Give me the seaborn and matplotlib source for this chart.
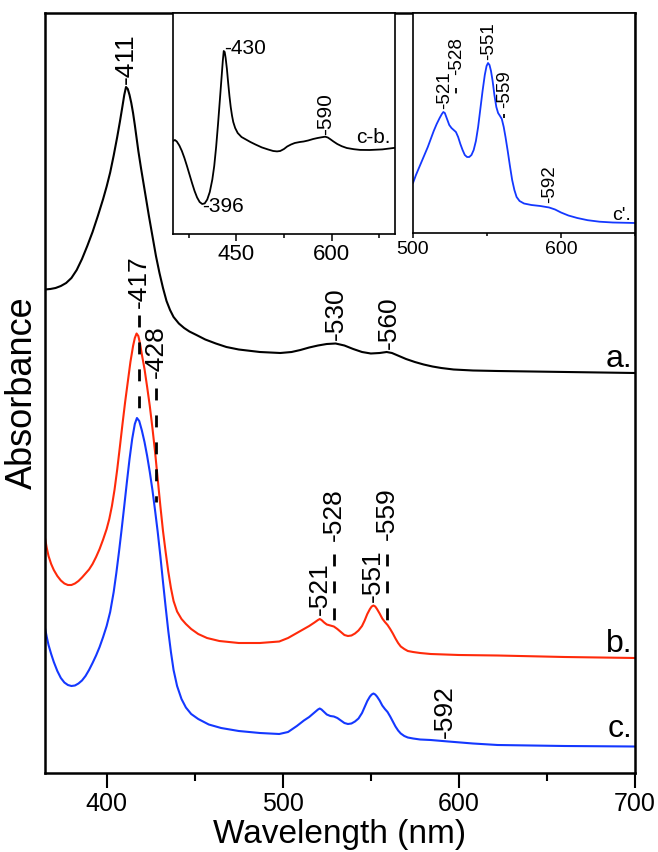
import matplotlib
matplotlib.use("Agg")
import matplotlib.pyplot as plt
import matplotlib.transforms as mtransforms
from matplotlib.ticker import MultipleLocator, AutoMinorLocator
import seaborn as sns

# ---------------- spectra (offset, arbitrary absorbance units) ----------------
# a. (black)
wl_a = [365, 368, 371, 374, 377, 380, 383, 386, 389, 392,
        395, 398, 400, 402, 404, 406, 407.5, 409, 410, 411,
        412, 413, 414, 415, 416, 417, 418, 419.5, 421, 422.5,
        424, 426, 428, 430, 432, 434, 436, 438, 441, 444,
        447, 451, 456, 462, 468, 475, 487, 498.6, 505, 510,
        515, 520, 525, 530, 535, 540, 545, 550, 555, 559,
        562, 566, 570, 575, 580, 585, 590, 597, 608, 622,
        661, 700]
abs_a = [0.985, 0.986, 0.988, 0.992, 0.998, 1.008, 1.024, 1.046, 1.072, 1.100,
         1.132, 1.166, 1.191, 1.219, 1.253, 1.290, 1.320, 1.352, 1.374, 1.390,
         1.386, 1.374, 1.358, 1.338, 1.314, 1.288, 1.262, 1.228, 1.196, 1.164,
         1.132, 1.092, 1.052, 1.018, 0.988, 0.962, 0.944, 0.930, 0.917, 0.908,
         0.901, 0.894, 0.885, 0.877, 0.870, 0.865, 0.860, 0.858, 0.860, 0.864,
         0.869, 0.873, 0.876, 0.877, 0.873, 0.866, 0.860, 0.857, 0.858, 0.860,
         0.858, 0.852, 0.846, 0.840, 0.835, 0.831, 0.828, 0.825, 0.823, 0.822,
         0.820, 0.818]

# b. (red)
wl_b = [365, 366, 367, 368.5, 370, 372, 374, 376, 378, 380,
        382, 384, 386, 388, 390, 392, 394, 396, 398, 400,
        401.5, 403, 404.5, 406, 407.5, 409, 410.5, 412, 413.5, 415,
        416, 417, 418, 419, 420, 421.5, 423, 424.5, 426, 427.5,
        429, 430.5, 432, 433.5, 435, 436.5, 438, 440, 442.5, 445,
        448, 452, 457, 464, 475, 487, 498, 503, 508, 512,
        515, 518, 520, 521, 522, 523.5, 525, 527, 529, 531,
        533, 535, 537, 539, 541, 543, 545, 546.5, 548, 549.5,
        550.5, 551.5, 552.5, 553.5, 555, 556.5, 558, 559.5, 561, 562.5,
        564, 565.5, 567, 569, 571, 574, 578, 584, 600, 622,
        660, 700]
abs_b = [0.488, 0.468, 0.452, 0.436, 0.424, 0.412, 0.403, 0.397, 0.394, 0.394,
         0.397, 0.402, 0.409, 0.417, 0.425, 0.436, 0.450, 0.466, 0.485, 0.506,
         0.526, 0.552, 0.585, 0.625, 0.670, 0.716, 0.760, 0.800, 0.840, 0.872,
         0.888, 0.897, 0.892, 0.876, 0.855, 0.826, 0.790, 0.752, 0.708, 0.660,
         0.606, 0.552, 0.502, 0.460, 0.421, 0.388, 0.362, 0.341, 0.326, 0.316,
         0.306, 0.296, 0.288, 0.282, 0.278, 0.278, 0.281, 0.288, 0.298, 0.306,
         0.312, 0.319, 0.324, 0.326, 0.324, 0.319, 0.315, 0.313, 0.311, 0.306,
         0.300, 0.294, 0.292, 0.293, 0.297, 0.303, 0.312, 0.323, 0.336, 0.346,
         0.351, 0.353, 0.351, 0.346, 0.337, 0.327, 0.320, 0.314, 0.306, 0.297,
         0.287, 0.278, 0.271, 0.266, 0.262, 0.260, 0.258, 0.256, 0.254, 0.253,
         0.250, 0.248]

# c. (blue)
wl_c = [365, 366, 367, 368.5, 370, 372, 374, 376, 378, 380,
        382, 384, 386, 388, 390, 392, 394, 396, 398, 400,
        402, 404, 405.5, 407, 408.5, 410, 411.5, 413, 414.5, 416,
        417.2, 418.5, 420, 421.5, 423, 424.5, 426, 427.5, 429, 430.5,
        432, 433.5, 435, 436.5, 438, 440, 442.5, 445, 448, 452,
        458, 465, 475, 487, 498, 503, 508, 512, 515, 518,
        520, 521, 522, 523.5, 525, 527, 529, 531, 533, 535,
        537, 539, 541, 543, 545, 546.5, 548, 549.5, 550.5, 551.5,
        552.5, 553.5, 555, 556.5, 558, 559.5, 561, 562.5, 564, 565.5,
        567, 569, 571, 574, 578, 584, 594, 608, 622, 660,
        700]
abs_c = [0.308, 0.290, 0.274, 0.256, 0.240, 0.222, 0.208, 0.199, 0.194, 0.192,
         0.193, 0.197, 0.203, 0.212, 0.224, 0.238, 0.253, 0.270, 0.290, 0.312,
         0.340, 0.380, 0.418, 0.460, 0.505, 0.552, 0.600, 0.646, 0.686, 0.716,
         0.728, 0.722, 0.703, 0.680, 0.652, 0.620, 0.584, 0.543, 0.500, 0.452,
         0.400, 0.350, 0.302, 0.260, 0.224, 0.192, 0.166, 0.149, 0.136, 0.126,
         0.115, 0.108, 0.102, 0.098, 0.096, 0.100, 0.112, 0.123, 0.130, 0.139,
         0.145, 0.147, 0.145, 0.140, 0.135, 0.132, 0.131, 0.128, 0.123, 0.118,
         0.116, 0.117, 0.121, 0.127, 0.138, 0.150, 0.162, 0.171, 0.175, 0.177,
         0.175, 0.171, 0.163, 0.153, 0.146, 0.140, 0.131, 0.121, 0.111, 0.103,
         0.097, 0.092, 0.089, 0.087, 0.085, 0.084, 0.081, 0.077, 0.074, 0.072,
         0.071]

# inset: difference spectrum c-b.
wl_cb = [350, 353, 356, 360, 364, 368, 372, 376, 380, 384,
         388, 392, 396, 400, 404, 408, 412, 415, 418, 421,
         424, 426.5, 428.5, 430, 431.5, 433, 435, 437, 439, 441,
         443, 445, 448, 452, 458, 465, 472, 480, 490, 500,
         508, 514, 519, 525, 530, 536, 542, 550, 556, 563,
         571, 578, 585, 590, 594, 598, 603, 609, 616, 624,
         635, 645, 660, 680, 700]
d_cb = [0.930, 0.940, 0.925, 0.885, 0.830, 0.760, 0.680, 0.595, 0.510, 0.430,
        0.365, 0.320, 0.300, 0.306, 0.345, 0.420, 0.545, 0.680, 0.870, 1.100,
        1.350, 1.560, 1.730, 1.830, 1.820, 1.760, 1.650, 1.510, 1.380, 1.270,
        1.185, 1.120, 1.060, 1.010, 0.970, 0.945, 0.920, 0.895, 0.866, 0.845,
        0.830, 0.826, 0.830, 0.850, 0.875, 0.895, 0.910, 0.920, 0.925, 0.935,
        0.950, 0.960, 0.968, 0.973, 0.965, 0.948, 0.925, 0.900, 0.878, 0.860,
        0.848, 0.841, 0.840, 0.846, 0.862]

# inset: expanded visible region c'.
wl_cp = [500, 502, 504, 506, 508, 510, 512, 514, 516, 518,
         519.5, 520.5, 521.5, 522.5, 523.5, 524.5, 526, 527.5, 529, 530.5,
         532, 533.5, 535, 536.5, 538, 539.5, 541, 542.5, 544, 545.5,
         547, 548.5, 549.7, 550.7, 551.7, 552.7, 553.8, 555, 556.3, 557.5,
         558.8, 560, 561.3, 562.5, 564, 565.5, 567, 568.5, 570, 572,
         575, 580, 586, 592, 596, 600, 605, 611, 618, 626,
         635, 650]
v_cp = [0.50, 0.58, 0.65, 0.72, 0.79, 0.86, 0.94, 1.02, 1.09, 1.15,
        1.19, 1.21, 1.20, 1.16, 1.12, 1.08, 1.05, 1.03, 1.01, 0.96,
        0.89, 0.83, 0.78, 0.76, 0.76, 0.78, 0.83, 0.92, 1.06, 1.24,
        1.42, 1.58, 1.67, 1.70, 1.68, 1.62, 1.52, 1.38, 1.26, 1.20,
        1.17, 1.14, 1.06, 0.96, 0.82, 0.67, 0.53, 0.43, 0.36, 0.32,
        0.295, 0.28, 0.27, 0.255, 0.235, 0.205, 0.175, 0.15, 0.128, 0.113,
        0.105, 0.10]

RED = "#ff2a0a"
BLUE = "#1438ff"

sns.set_theme(style="ticks")
plt.rcParams["font.family"] = ["Liberation Sans", "DejaVu Sans"]
plt.rcParams["axes.unicode_minus"] = False
for key in ("text.color", "axes.labelcolor", "xtick.color", "ytick.color",
            "axes.edgecolor", "xtick.labelcolor"):
    plt.rcParams[key] = "black"

fig = plt.figure(figsize=(6.58, 8.52), dpi=100)
W, H = 658, 852


def box(x0, y0, x1, y1):
    return [x0 / W, 1 - y1 / H, (x1 - x0) / W, (y1 - y0) / H]


def vlabel(axis, x, y, text, size, dx=0.0, dy=1.5, color="black"):
    """Vertical label whose leading hyphen sits on (x, y)."""
    off = mtransforms.ScaledTranslation((0.27 * size + dx) / 72, dy / 72,
                                        fig.dpi_scale_trans)
    axis.text(x, y, text, rotation=90, rotation_mode="anchor", ha="left",
              va="baseline", fontsize=size, color=color,
              transform=axis.transData + off)


def dashline(axis, x, y0, y1, lw, dash, dx=0.0):
    off = mtransforms.ScaledTranslation(dx / 72, 0, fig.dpi_scale_trans)
    axis.plot([x, x], [y0, y1], color="black", lw=lw, ls=(0, dash),
              transform=axis.transData + off, solid_capstyle="butt")


# ---------------- main panel ----------------
ax = fig.add_axes(box(45, 13, 635, 773))
sns.lineplot(x=wl_a, y=abs_a, ax=ax, color="black", linewidth=1.5,
             estimator=None, sort=False)
sns.lineplot(x=wl_b, y=abs_b, ax=ax, color=RED, linewidth=1.5,
             estimator=None, sort=False)
sns.lineplot(x=wl_c, y=abs_c, ax=ax, color=BLUE, linewidth=1.5,
             estimator=None, sort=False)

ax.set_xlim(365, 700)
ax.set_ylim(0.018, 1.538)
ax.set_yticks([])
ax.xaxis.set_major_locator(MultipleLocator(100))
ax.xaxis.set_minor_locator(MultipleLocator(50))
ax.tick_params(axis="x", which="major", direction="out", length=10.5,
               width=1.5, labelsize=18, pad=3, color="black",
               labelcolor="black")
ax.tick_params(axis="x", which="minor", direction="out", length=6,
               width=1.5, color="black")
for s in ax.spines.values():
    s.set_linewidth(1.8)
    s.set_color("black")
ax.set_xlabel("Wavelength (nm)", fontsize=24, labelpad=2, color="black")
ax.set_ylabel("Absorbance", fontsize=26, labelpad=4, color="black")

LBL = 19
main_dash = (4.3, 5.4)
# spectrum a.
vlabel(ax, 411, 1.392, "-411", LBL)
vlabel(ax, 530, 0.879, "-530", LBL)
vlabel(ax, 560, 0.862, "-560", LBL)
# spectrum b. / c. Soret band
vlabel(ax, 417, 0.944, "-417", LBL, dx=1.5)
dashline(ax, 417, 0.934, 0.738, 2.0, main_dash, dx=1.5)
vlabel(ax, 428, 0.804, "-428", LBL)
dashline(ax, 428, 0.788, 0.560, 2.0, main_dash)
# spectrum b. visible bands
vlabel(ax, 521, 0.329, "-521", LBL)
vlabel(ax, 528, 0.478, "-528", LBL, dx=1.5)
dashline(ax, 528, 0.456, 0.318, 2.0, main_dash, dx=1.5)
vlabel(ax, 551, 0.356, "-551", LBL)
vlabel(ax, 559, 0.480, "-559", LBL)
dashline(ax, 559, 0.456, 0.320, 2.0, main_dash)
# spectrum c.
vlabel(ax, 592, 0.084, "-592", LBL)

for txt, yb in (("a.", 0.830), ("b.", 0.260), ("c.", 0.090)):
    ax.text(700, yb, txt, ha="right", va="baseline", fontsize=23,
            transform=ax.transData + mtransforms.ScaledTranslation(
                -2 / 72, 0, fig.dpi_scale_trans))

# ---------------- inset: c-b. ----------------
ax1 = fig.add_axes(box(173, 13, 395, 234))
ax1.set_facecolor("white")
sns.lineplot(x=wl_cb, y=d_cb, ax=ax1, color="black", linewidth=1.3,
             estimator=None, sort=False)
ax1.set_xlim(350, 700)
ax1.set_ylim(0, 2.21)
ax1.set_yticks([])
ax1.xaxis.set_major_locator(MultipleLocator(150))
ax1.xaxis.set_minor_locator(AutoMinorLocator(2))
ax1.tick_params(axis="x", which="major", direction="out", length=5,
                width=1.1, labelsize=16, pad=2, color="black",
                labelcolor="black")
ax1.tick_params(axis="x", which="minor", direction="out", length=3,
                width=1.1, color="black")
for s in ax1.spines.values():
    s.set_linewidth(1.2)
    s.set_color("black")
ax1.set_xlabel("")
ax1.set_ylabel("")
off1 = mtransforms.ScaledTranslation(0, -2 / 72, fig.dpi_scale_trans)
ax1.text(430, 1.830, "-430", ha="left", va="baseline", fontsize=15,
         transform=ax1.transData + off1)
off2 = mtransforms.ScaledTranslation(0, -6 / 72, fig.dpi_scale_trans)
ax1.text(396, 0.300, "-396", ha="left", va="baseline", fontsize=15,
         transform=ax1.transData + off2)
vlabel(ax1, 590, 0.975, "-590", 15, dy=1)
ax1.text(693, 0.91, "c-b.", ha="right", va="baseline", fontsize=15)

# ---------------- inset: c'. ----------------
ax2 = fig.add_axes(box(413, 13, 635, 233))
ax2.set_facecolor("white")
sns.lineplot(x=wl_cp, y=v_cp, ax=ax2, color=BLUE, linewidth=1.3,
             estimator=None, sort=False)
ax2.set_xlim(500, 650)
ax2.set_ylim(0, 2.20)
ax2.set_yticks([])
ax2.xaxis.set_major_locator(MultipleLocator(100))
ax2.xaxis.set_minor_locator(AutoMinorLocator(2))
ax2.tick_params(axis="x", which="major", direction="out", length=3.5,
                width=1.1, labelsize=14, pad=2, color="black",
                labelcolor="black")
ax2.tick_params(axis="x", which="minor", direction="out", length=2.5,
                width=1.1, color="black")
for s in ax2.spines.values():
    s.set_linewidth(1.2)
    s.set_color("black")
ax2.set_xlabel("")
ax2.set_ylabel("")
ins_dash = (3, 20)
vlabel(ax2, 521, 1.22, "-521", 13.5)
vlabel(ax2, 528, 1.56, "-528", 13.5, dx=1)
dashline(ax2, 528, 1.45, 1.05, 1.3, ins_dash, dx=1)
vlabel(ax2, 551, 1.71, "-551", 13.5)
vlabel(ax2, 559, 1.23, "-559", 13.5, dx=3)
dashline(ax2, 559, 1.19, 1.15, 1.3, (3, 3), dx=3)
vlabel(ax2, 592, 0.28, "-592", 13.5)
ax2.text(647, 0.13, "c'.", ha="right", va="baseline", fontsize=14)

fig.savefig("out.png", dpi=100)
